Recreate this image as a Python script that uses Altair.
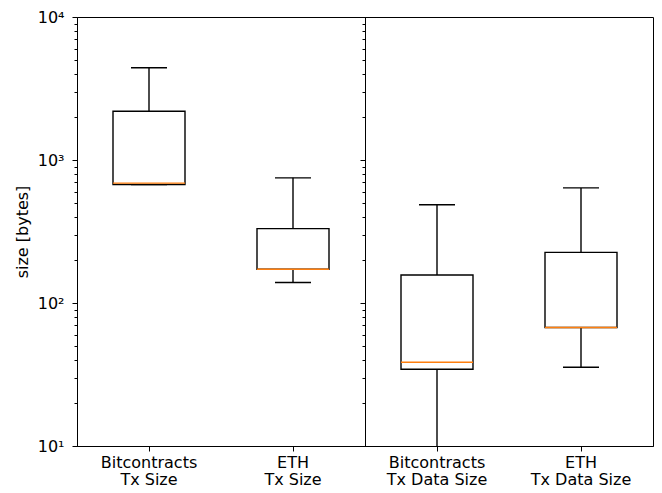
import altair as alt
import pandas as pd

panels = ["tx", "tx", "data", "data"]
categories = ["Bitcontracts\nTx Size", "ETH\nTx Size",
              "Bitcontracts\nTx Data Size", "ETH\nTx Data Size"]
whisker_low = [674, 139, 6, 35.5]
q1 = [674, 172, 34.4, 67.4]
median = [689, 172, 38.5, 67.4]
q3 = [2193, 331, 157, 226]
whisker_high = [4416, 750, 486, 638]

y_ticks = [m * 10 ** e for e in range(1, 4) for m in range(1, 10)] + [10000]

df = pd.DataFrame({
    "panel": panels, "category": categories, "lo": whisker_low,
    "q1": q1, "med": median, "q3": q3, "hi": whisker_high,
})

W, H = 288, 429
yscale = alt.Scale(type="log", domain=[10, 10000], nice=False)
major_test = "abs(log(datum.value)/LN10 - round(log(datum.value)/LN10)) < 1e-6"
label_expr = ("datum.value == 10 ? '10¹' : datum.value == 100 ? '10²' : "
              "datum.value == 1000 ? '10³' : datum.value == 10000 ? '10⁴' : ''")


def yaxis(first):
    kw = dict(values=y_ticks, grid=False,
              tickSize={"condition": {"test": major_test, "value": 5}, "value": 3},
              tickColor="black", domainColor="black", tickWidth=1)
    if first:
        return alt.Axis(labelExpr=label_expr, title="size [bytes]", titlePadding=7, labelPadding=8, **kw)
    return alt.Axis(labels=False, title=None, **kw)


def panel(name, first):
    base = alt.Chart(df[df.panel == name]).encode(
        x=alt.X("category:N", sort=None,
                scale=alt.Scale(paddingInner=0, paddingOuter=0),
                axis=alt.Axis(title=None, labelExpr="split(datum.label, '\\n')", labelAngle=0,
                              bandPosition=0.5, tickSize=5, tickColor="black", domainColor="black",
                              labelPadding=3, labelLineHeight=17, grid=False)))
    box = base.mark_bar(size=W / 4, fill="white", stroke="black", strokeWidth=1.4).encode(
        y=alt.Y("q1:Q", scale=yscale, axis=yaxis(first)), y2="q3:Q")
    w_hi = base.mark_rule(color="black", strokeWidth=1.4).encode(y=alt.Y("q3:Q", scale=yscale), y2="hi:Q")
    w_lo = base.mark_rule(color="black", strokeWidth=1.4, clip=True).encode(
        y=alt.Y("lo:Q", scale=yscale), y2="q1:Q")
    c_hi = base.mark_tick(size=W / 8, thickness=1.4, color="black", opacity=1).encode(
        y=alt.Y("hi:Q", scale=yscale))
    c_lo = base.mark_tick(size=W / 8, thickness=1.4, color="black", opacity=1, clip=True).encode(
        y=alt.Y("lo:Q", scale=yscale))
    med = base.mark_tick(size=W / 4, thickness=1.4, color="#ff7f0e", opacity=1).encode(
        y=alt.Y("med:Q", scale=yscale))
    return alt.layer(w_hi, w_lo, c_hi, c_lo, box, med).properties(width=W, height=H)


chart = alt.hconcat(panel("tx", True), panel("data", False), spacing=0, bounds="flush").configure_view(
    stroke="black", strokeWidth=1
).configure_axis(
    labelFont="DejaVu Sans", titleFont="DejaVu Sans", labelFontSize=16, titleFontSize=16,
    titleFontWeight="normal", labelColor="black", titleColor="black"
).properties(padding={"left": 5, "top": 0, "right": 0, "bottom": 0})

chart.save("out.html", embed_options={"renderer": "svg", "actions": False})
